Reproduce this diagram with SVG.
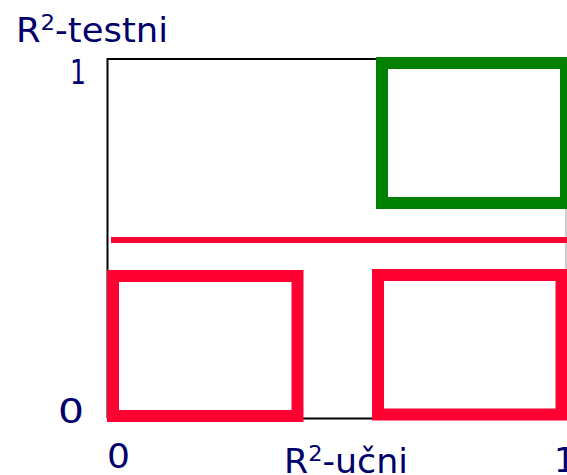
<svg xmlns="http://www.w3.org/2000/svg" width="567" height="475" viewBox="0 0 567 475">
<style>
.lbl{font-family:"DejaVu Sans","Liberation Sans",sans-serif;font-size:34px;fill:#00006B}
.sup{font-size:22px}
.red{fill:none;stroke:#FF0033;stroke-width:12}
.grn{fill:none;stroke:#008000;stroke-width:12}
</style>
<rect width="567" height="475" fill="#fff"/>
<g id="frame">
<path d="M107.5 418.5 V59 H376" fill="none" stroke="#000" stroke-width="2"/>
<path d="M107 418.5 H566" fill="none" stroke="#000" stroke-width="2"/>
<path d="M566 59 V418" fill="none" stroke="#999" stroke-width="1"/>
</g>
<g id="connectors">
<path d="M111 240 H567" stroke="#FF0033" stroke-width="6" fill="none"/>
</g>
<g id="green-box"><rect class="grn" x="382" y="63" width="184" height="140"/></g>
<g id="red-box-left"><rect class="red" x="113" y="276" width="184.5" height="140"/></g>
<g id="red-box-right"><rect class="red" x="378" y="275" width="183.5" height="139.5"/></g>
<g id="labels">
<text class="lbl" x="16" y="42" textLength="152" lengthAdjust="spacingAndGlyphs">R<tspan class="sup" dy="-12">2</tspan><tspan dy="12">-testni</tspan></text>
<text class="lbl" x="70" y="84" textLength="16" lengthAdjust="spacingAndGlyphs">1</text>
<text class="lbl" x="58" y="423" textLength="26" lengthAdjust="spacingAndGlyphs">0</text>
<text class="lbl" x="107" y="468" textLength="23" lengthAdjust="spacingAndGlyphs">0</text>
<text class="lbl" x="284" y="473" textLength="124" lengthAdjust="spacingAndGlyphs">R<tspan class="sup" dy="-12">2</tspan><tspan dy="12">-učni</tspan></text>
<text class="lbl" x="554" y="472">1</text>
</g>
</svg>
